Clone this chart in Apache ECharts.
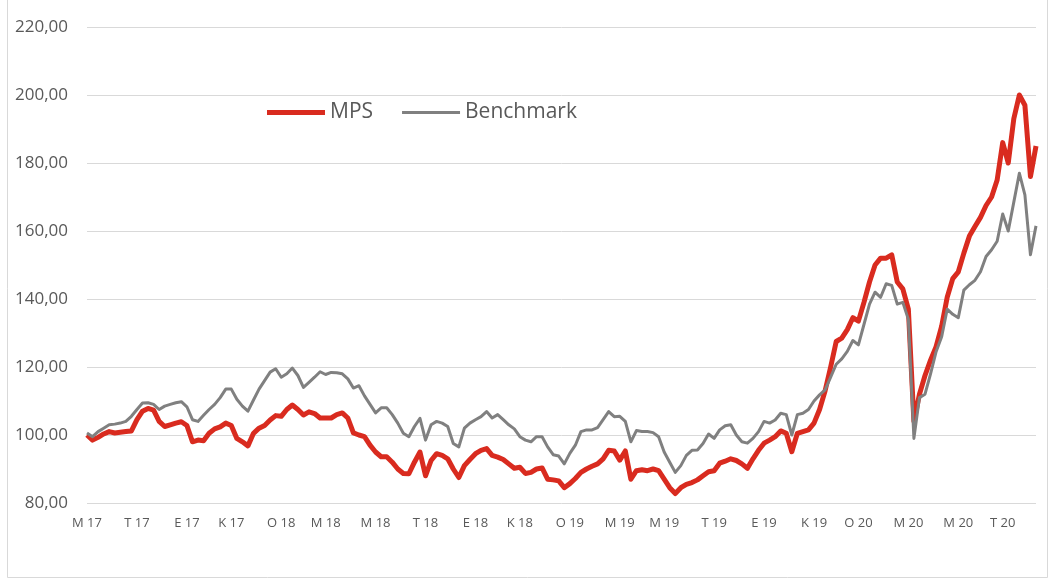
<!DOCTYPE html>
<html>
<head>
<meta charset="utf-8">
<script src="https://cdn.jsdelivr.net/npm/echarts@6/dist/echarts.min.js"></script>
<style>
html,body{margin:0;padding:0;background:#fff;}
#chart{width:1051px;height:580px;}
</style>
</head>
<body>
<div id="chart"></div>
<script>
// Weekly observations starting 2017-05-01
const startDate = '2017-05-01';

const mps = [
100, 98.5, 99.3, 100.3, 101, 100.6, 100.8, 101, 101.2, 104.5,
107, 107.8, 107.3, 104, 102.5, 103, 103.5, 103.9, 102.8, 98,
98.5, 98.3, 100.5, 101.8, 102.4, 103.5, 102.8, 99, 98, 96.8,
100.5, 102, 102.8, 104.4, 105.7, 105.5, 107.5, 108.8, 107.5, 105.9,
106.8, 106.3, 105, 105, 105, 106, 106.5, 105, 100.6, 100,
99.5, 97, 95, 93.6, 93.6, 92, 90, 88.7, 88.6, 92,
95, 88, 92.5, 94.5, 94, 93, 90, 87.5, 91, 92.8,
94.5, 95.5, 96, 94, 93.5, 92.8, 91.5, 90.2, 90.5, 88.7,
89, 90, 90.3, 87, 86.8, 86.5, 84.5, 85.7, 87.2, 89,
90, 90.8, 91.5, 93, 95.5, 95.3, 92.6, 95.3, 87, 89.5,
89.8, 89.5, 90, 89.5, 87, 84.5, 82.8, 84.5, 85.5, 86,
86.8, 88, 89.2, 89.5, 91.7, 92.3, 93, 92.5, 91.5, 90.2,
93, 95.5, 97.6, 98.5, 99.5, 101.2, 100.5, 95.1, 100.5, 101,
101.5, 103.5, 107.5, 113, 120, 127.5, 128.5, 131, 134.5, 133.5,
139, 145, 150, 152, 152, 153, 145, 143, 137, 104,
112, 117.5, 122, 126, 132, 140.5, 146, 148, 153.5, 158.5,
161.3, 164, 167.5, 170, 175, 186, 180, 193, 200, 197,
176, 185
];

const benchmark = [
100.6, 99.5, 101, 102, 103, 103.2, 103.5, 104, 105.5, 107.5,
109.4, 109.5, 109, 107.5, 108.5, 109, 109.5, 109.8, 108.3, 104.5,
104, 105.8, 107.5, 109, 111, 113.5, 113.5, 110.5, 108.5, 107,
110.3, 113.5, 116, 118.5, 119.5, 117, 118, 119.7, 117.5, 114,
115.5, 117, 118.6, 117.8, 118.4, 118.3, 118, 116.5, 113.8, 114.5,
111.5, 109, 106.5, 108, 108, 106, 103.5, 100.5, 99.5, 102.5,
104.9, 98.5, 103, 104, 103.5, 102.5, 97.5, 96.5, 102, 103.5,
104.5, 105.4, 106.9, 105, 106, 104.5, 103, 101.8, 99.5, 98.5,
98, 99.5, 99.5, 96.5, 94.2, 93.8, 91.5, 94.6, 97, 101,
101.5, 101.5, 102.2, 104.5, 106.9, 105.4, 105.5, 104, 98, 101.3,
101, 101, 100.7, 99.5, 95, 92, 89, 91, 94, 95.5,
95.6, 97.5, 100.3, 99, 101.5, 102.7, 103, 100, 98, 97.6,
99, 101, 104, 103.5, 104.4, 106.4, 106, 100, 106, 106.4,
107.5, 110, 111.8, 113.3, 117, 120.8, 122.4, 124.6, 127.8, 126.5,
132.5, 138.5, 142, 140.5, 144.5, 144, 138.5, 139, 134, 99,
111, 112, 118, 124.5, 128.9, 137, 135.5, 134.5, 142.6, 144.2,
145.5, 148, 152.5, 154.5, 157, 165, 160, 168.5, 177, 170.6,
153, 161.5
];

const tickLabels = ['M 17','T 17','E 17','K 17','O 18','M 18','M 18','T 18','E 18','K 18',
                    'O 19','M 19','M 19','T 19','E 19','K 19','O 20','M 20','M 20','T 20'];
const tickDates = ['2017-05-01','2017-07-01','2017-09-01','2017-11-01','2018-01-01','2018-03-01',
                   '2018-05-01','2018-07-01','2018-09-01','2018-11-01','2019-01-01','2019-03-01',
                   '2019-05-01','2019-07-01','2019-09-01','2019-11-01','2020-01-01','2020-03-01',
                   '2020-05-01','2020-07-01'];

const DAY = 86400000;
const t0 = Date.parse(startDate + 'T00:00:00Z');
const categories = mps.map((_, i) => new Date(t0 + i * 7 * DAY).toISOString().slice(0, 10));
const labelMap = new Map();
tickDates.forEach((d, k) => {
  const idx = Math.round((Date.parse(d + 'T00:00:00Z') - t0) / (7 * DAY));
  labelMap.set(idx, tickLabels[k]);
});

const chart = echarts.init(document.getElementById('chart'), null, {renderer: 'canvas'});
chart.setOption({
  animation: false,
  backgroundColor: '#ffffff',
  textStyle: {fontFamily: 'Open Sans'},
  graphic: [{
    type: 'rect',
    shape: {x: 7.5, y: -10, width: 1040, height: 587.5},
    style: {fill: 'none', stroke: '#d9d9d9', lineWidth: 1},
    silent: true, z: -1
  }],
  grid: {left: 87, right: 15, top: 27, bottom: 77, containLabel: false},
  legend: {
    left: 262, top: 97,
    itemWidth: 58, itemHeight: 14, itemGap: 29,
    textStyle: {fontSize: 21, color: '#595959', fontFamily: 'Open Sans'},
    data: [
      {name: 'MPS', icon: 'path://M0,0 L58,0 L58,5 L0,5 Z', itemStyle: {color: '#d92b1f'}},
      {name: 'Benchmark', icon: 'path://M0,0 L58,0 L58,3 L0,3 Z', itemStyle: {color: '#808080'}}
    ]
  },
  xAxis: {
    type: 'category',
    data: categories,
    boundaryGap: false,
    axisLine: {show: false},
    axisTick: {show: false},
    splitLine: {show: false},
    axisLabel: {
      interval: (i) => labelMap.has(i),
      formatter: (v, i) => labelMap.get(i) || '',
      color: '#595959', fontSize: 13, margin: 14, fontFamily: 'Open Sans'
    }
  },
  yAxis: {
    type: 'value',
    min: 80, max: 220, interval: 20,
    axisLine: {show: false},
    axisTick: {show: false},
    splitLine: {lineStyle: {color: '#d9d9d9', width: 1}},
    axisLabel: {
      formatter: (v) => v.toFixed(2).replace('.', ','),
      color: '#595959', fontSize: 17, margin: 19, fontFamily: 'Open Sans'
    }
  },
  series: [
    {
      name: 'MPS', type: 'line', data: mps,
      symbol: 'none', showSymbol: false,
      lineStyle: {color: '#d92b1f', width: 5, join: 'round'},
      itemStyle: {color: '#d92b1f'}, z: 2
    },
    {
      name: 'Benchmark', type: 'line', data: benchmark,
      symbol: 'none', showSymbol: false,
      lineStyle: {color: '#808080', width: 3, join: 'round'},
      itemStyle: {color: '#808080'}, z: 3
    }
  ]
});
</script>
</body>
</html>
